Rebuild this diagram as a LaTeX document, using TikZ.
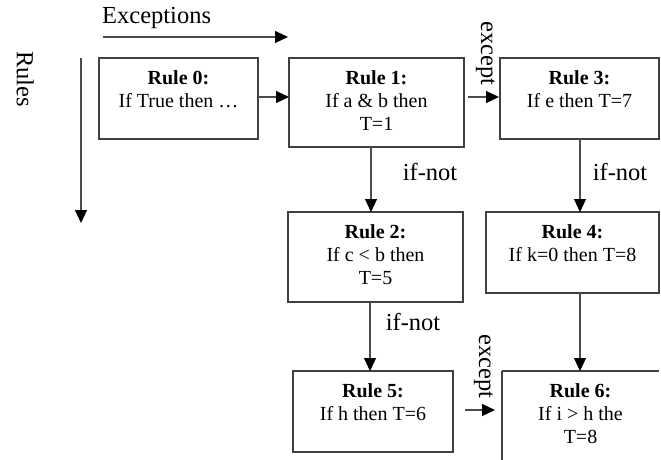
\documentclass[tikz,border=0pt]{standalone}
\usepackage{fontspec}
\setmainfont{Liberation Serif}
\usetikzlibrary{arrows.meta}
\begin{document}
\begin{tikzpicture}[x=1pt,y=-1pt,
  line/.style={draw=black!70, line width=1.1pt},
  arr/.style={line, -{Triangle[length=13pt,width=12pt,color=black]}},
  rulebox/.style={draw=black!75, line width=1.1pt},
  boxtext/.style={anchor=north, align=center, font=\fontsize{20}{23}\selectfont, inner sep=0pt},
  lbl/.style={font=\fontsize{24.5}{26}\selectfont, inner sep=0pt}]
\useasboundingbox (0,0) rectangle (661,459);
% rule boxes
\draw[rulebox] (99,58) rectangle (258,139);
\draw[rulebox] (289,58) rectangle (464,147);
\draw[rulebox] (500,58) rectangle (659,139);
\draw[rulebox] (288,212) rectangle (463,302);
\draw[rulebox] (486,212) rectangle (659,293);
\draw[rulebox] (293,371) rectangle (453,452);
\draw[rulebox] (502,371) -- (659,371) (502,371) -- (502,465);
% box anchors
\coordinate (r0w) at (99,97);  \coordinate (r0e) at (258,97);
\coordinate (r1w) at (289,97); \coordinate (r1e) at (468,97);
\coordinate (r3w) at (499,97);
\coordinate (r1s) at (371,147); \coordinate (r2n) at (371,212);
\coordinate (r3s) at (580,139); \coordinate (r4n) at (580,212);
\coordinate (r2s) at (370,302); \coordinate (r5n) at (370,371);
\coordinate (r4s) at (580,293); \coordinate (r6n) at (580,371);
\coordinate (r5e) at (465,410); \coordinate (r6w) at (495,410);
% texts
\node[boxtext] (t0) at (178.5,70) {\textbf{Rule 0:}\\If True then …};
\node[boxtext] (t1) at (376.5,70) {\textbf{Rule 1:}\\If a \& b then\\T=1};
\node[boxtext] (t3) at (579.5,70) {\textbf{Rule 3:}\\If e then T=7};
\node[boxtext] (t2) at (375.5,224) {\textbf{Rule 2:}\\If c < b then\\T=5};
\node[boxtext] (t4) at (572.5,224) {\textbf{Rule 4:}\\If k=0 then T=8};
\node[boxtext] (t5) at (373,383) {\textbf{Rule 5:}\\If h then T=6};
\node[boxtext] (t6) at (580.5,383) {\textbf{Rule 6:}\\If i > h the\\T=8};
% axes
\coordinate (exs) at (103,37); \coordinate (exe) at (288,37);
\draw[arr] (exs) -- (exe);
\node[lbl, anchor=south west] (exl) at (102,29) {Exceptions};
\coordinate (rus) at (81,58); \coordinate (rue) at (81,223);
\draw[arr] (rus) -- (rue);
\node[lbl, rotate=-90, anchor=north west] (rul) at (34,51) {Rules};
% connectors
\draw[arr] (r0e) -- (r1w);
\draw[arr] (r1e) -- (r3w);
\draw[arr] (r1s) -- (r2n);
\draw[arr] (r3s) -- (r4n);
\draw[arr] (r2s) -- (r5n);
\draw[arr] (r4s) -- (r6n);
\draw[arr] (r5e) -- (r6w);
% edge labels
\node[lbl, rotate=-90, anchor=north west] (ex1) at (495,21) {except};
\node[lbl, rotate=-90, anchor=north west] (ex2) at (493,334) {except};
\node[lbl] (in1) at (430,172) {if-not};
\node[lbl] (in2) at (620,172) {if-not};
\node[lbl] (in3) at (413,322) {if-not};
\end{tikzpicture}
\end{document}
